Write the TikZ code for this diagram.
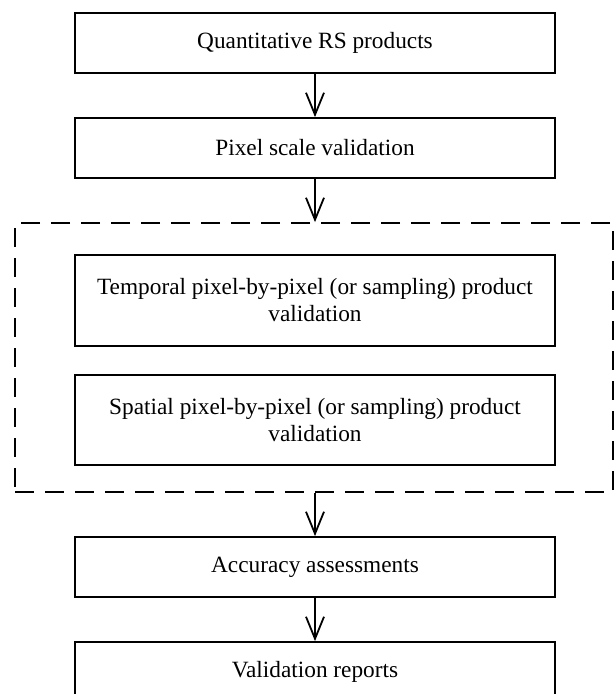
\documentclass[tikz,border=0pt]{standalone}
\usepackage{fontspec}
\setmainfont{Liberation Serif}
\usepackage{tikz}
\usetikzlibrary{arrows.meta}

\tikzset{
  stagebox/.style={draw, line width=1.8pt, minimum width=480pt, minimum height=60pt, inner sep=0pt, align=center},
  flowarrow/.style={line width=1.8pt, -{Straight Barb[length=22pt, width=18pt, line width=1.8pt]}},
  groupframe/.style={draw, line width=1.8pt, dash pattern=on 19pt off 11pt, minimum width=598pt, minimum height=269pt, inner sep=0pt}
}

\begin{document}
\begin{tikzpicture}[x=1pt, y=-1pt, font=\fontsize{23.3}{27}\selectfont]
      \useasboundingbox (0, 0) rectangle (614, 694);
      \node[groupframe] (grp) at (314, 357.5) {};
      \node[stagebox] (quant) at (315, 43) {Quantitative RS products};
      \node[stagebox] (pixel) at (315, 148) {Pixel scale validation};
      \node[stagebox, minimum height=91pt] (temporal) at (315, 300.5) {Temporal pixel-by-pixel (or sampling) product\\ validation};
      \node[stagebox, minimum height=90pt] (spatial) at (315, 420) {Spatial pixel-by-pixel (or sampling) product\\ validation};
      \node[stagebox] (accuracy) at (315, 567) {Accuracy assessments};
      \node[stagebox] (reports) at (315, 672) {Validation reports};
      \draw[flowarrow] (quant) -- (pixel);
      \draw[flowarrow] (pixel.south) -- (pixel.south |- grp.north);
      \draw[flowarrow] (accuracy.north |- grp.south) -- (accuracy.north);
      \draw[flowarrow] (accuracy) -- (reports);
\end{tikzpicture}
\end{document}
